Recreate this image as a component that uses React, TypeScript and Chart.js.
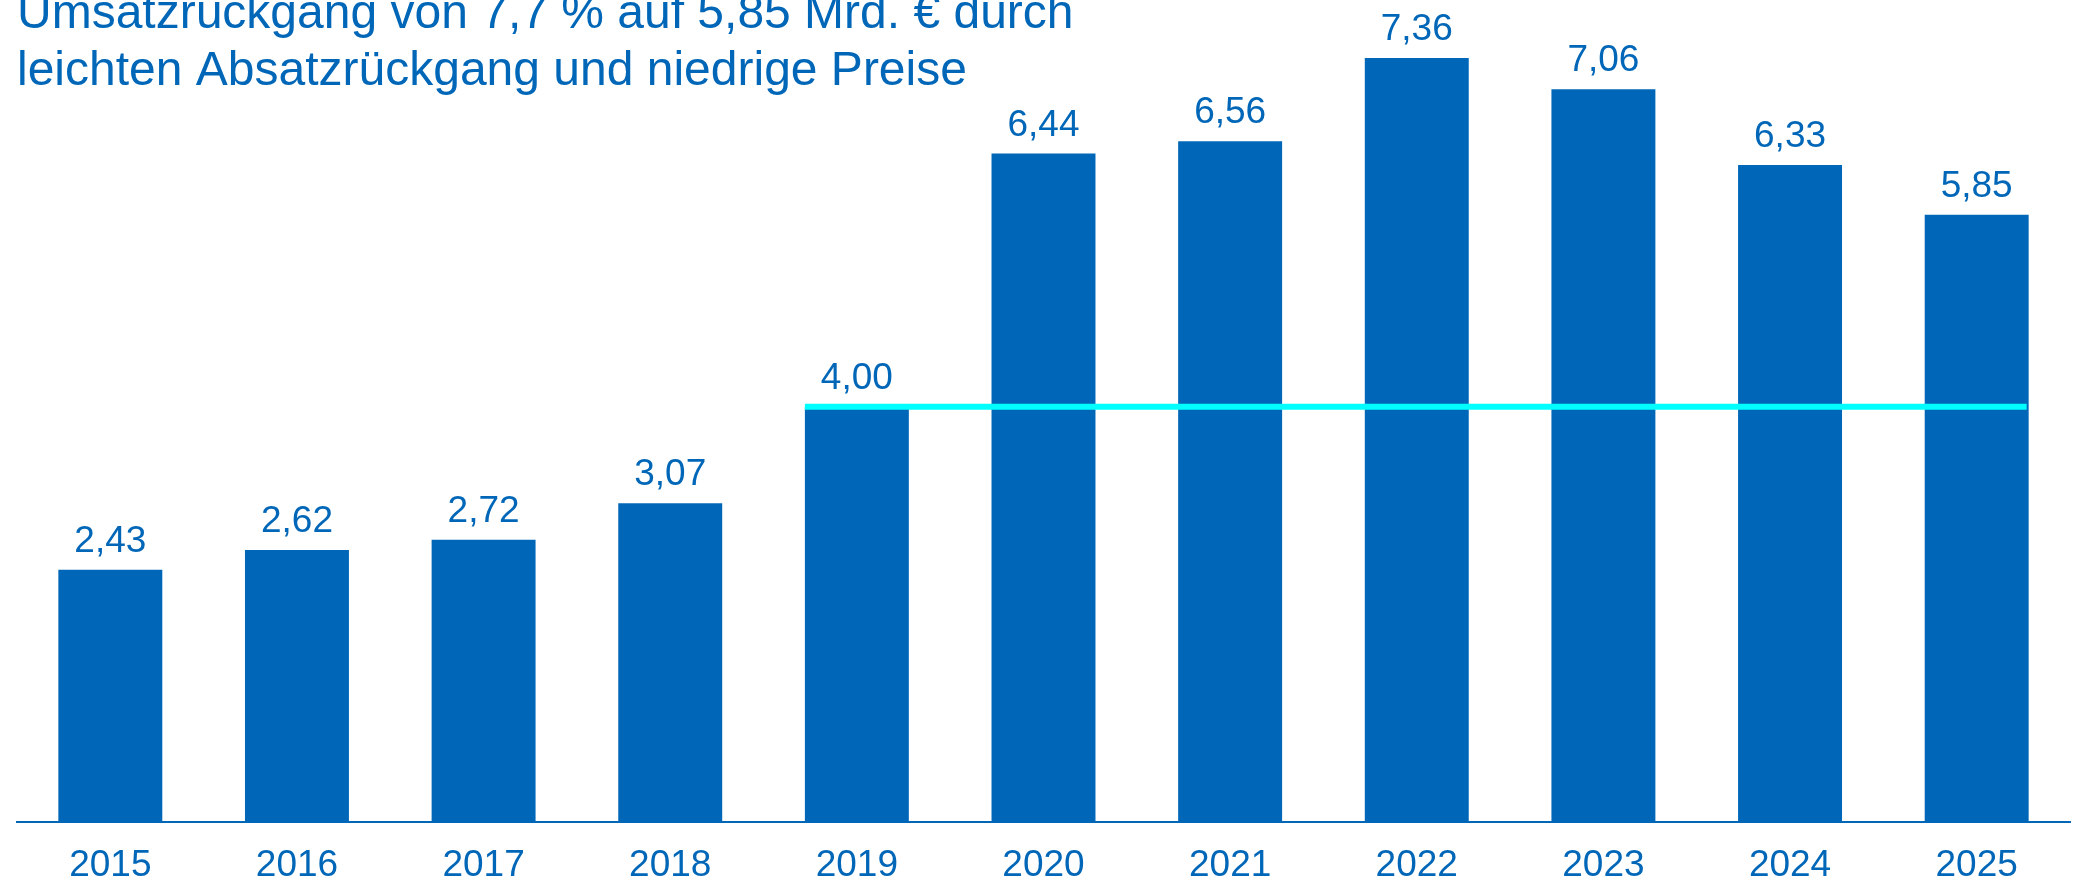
import React, { useEffect, useRef } from "react";
import { Chart, registerables } from "chart.js";

Chart.register(...registerables);

const years: string[] = ["2015", "2016", "2017", "2018", "2019", "2020", "2021", "2022", "2023", "2024", "2025"];
const revenue: number[] = [2.43, 2.62, 2.72, 3.07, 4.0, 6.44, 6.56, 7.36, 7.06, 6.33, 5.85];
const referenceValue = 4.0;
const referenceFromIndex = 4;
const titleLines: string[] = [
  "Umsatzrückgang von 7,7 % auf 5,85 Mrd. € durch",
  "leichten Absatzrückgang und niedrige Preise",
];

const BLUE = "#0067B8";
const CYAN = "#00FFFF";
const FONT = '"Liberation Sans", Arial, Helvetica, sans-serif';

const fmt = (v: number) => v.toFixed(2).replace(".", ",");

export default function App() {
  const ref = useRef<HTMLCanvasElement | null>(null);

  useEffect(() => {
    if (!ref.current) return;

    const overlay = {
      id: "overlay",
      afterDatasetsDraw(chart: any) {
        const ctx = chart.ctx;
        const meta = chart.getDatasetMeta(0);
        const yScale = chart.scales.y;
        // reference line
        const first = meta.data[referenceFromIndex] as any;
        const last = meta.data[meta.data.length - 1] as any;
        const yRef = yScale.getPixelForValue(referenceValue);
        ctx.save();
        ctx.strokeStyle = CYAN;
        ctx.lineWidth = 6;
        ctx.beginPath();
        ctx.moveTo(first.x - first.width / 2, yRef);
        ctx.lineTo(last.x + last.width / 2 - 2, yRef);
        ctx.stroke();
        // value labels
        ctx.fillStyle = BLUE;
        ctx.font = `37px ${FONT}`;
        ctx.textAlign = "center";
        ctx.textBaseline = "alphabetic";
        meta.data.forEach((bar: any, i: number) => {
          ctx.fillText(fmt(revenue[i]), bar.x, bar.y - 18);
        });
        ctx.restore();
      },
      afterDraw(chart: any) {
        const ctx = chart.ctx;
        ctx.save();
        ctx.fillStyle = BLUE;
        ctx.font = `48px ${FONT}`;
        ctx.textAlign = "left";
        ctx.textBaseline = "alphabetic";
        ctx.fillText(titleLines[0], 17, 28);
        ctx.fillText(titleLines[1], 17, 85);
        ctx.restore();
      },
    };

    const chart = new Chart(ref.current, {
      type: "bar",
      data: {
        labels: years,
        datasets: [
          {
            data: revenue,
            backgroundColor: BLUE,
            borderWidth: 0,
            categoryPercentage: 1,
            barPercentage: 0.557,
          },
        ],
      },
      options: {
        responsive: false,
        animation: false,
        devicePixelRatio: 1,
        layout: { padding: { left: 17, right: 8, top: 0, bottom: 0 } },
        plugins: {
          legend: { display: false },
          tooltip: { enabled: false },
          title: { display: false },
        },
        scales: {
          x: {
            grid: { display: false, drawTicks: false },
            border: { display: true, color: BLUE, width: 2 },
            ticks: {
              color: BLUE,
              font: { family: FONT, size: 37, lineHeight: 1.2 },
              padding: 22,
              maxRotation: 0,
              autoSkip: false,
            },
            afterFit: (scale: any) => {
              scale.height = 61;
            },
          },
          y: {
            display: false,
            min: 0,
            max: 7.92,
          },
        },
      },
      plugins: [overlay],
    });

    return () => chart.destroy();
  }, []);

  return (
    <div style={{ position: "absolute", left: 0, top: 0, width: 2078, height: 883, background: "#fff" }}>
      <canvas ref={ref} width={2078} height={883} style={{ width: 2078, height: 883, display: "block" }} />
    </div>
  );
}
